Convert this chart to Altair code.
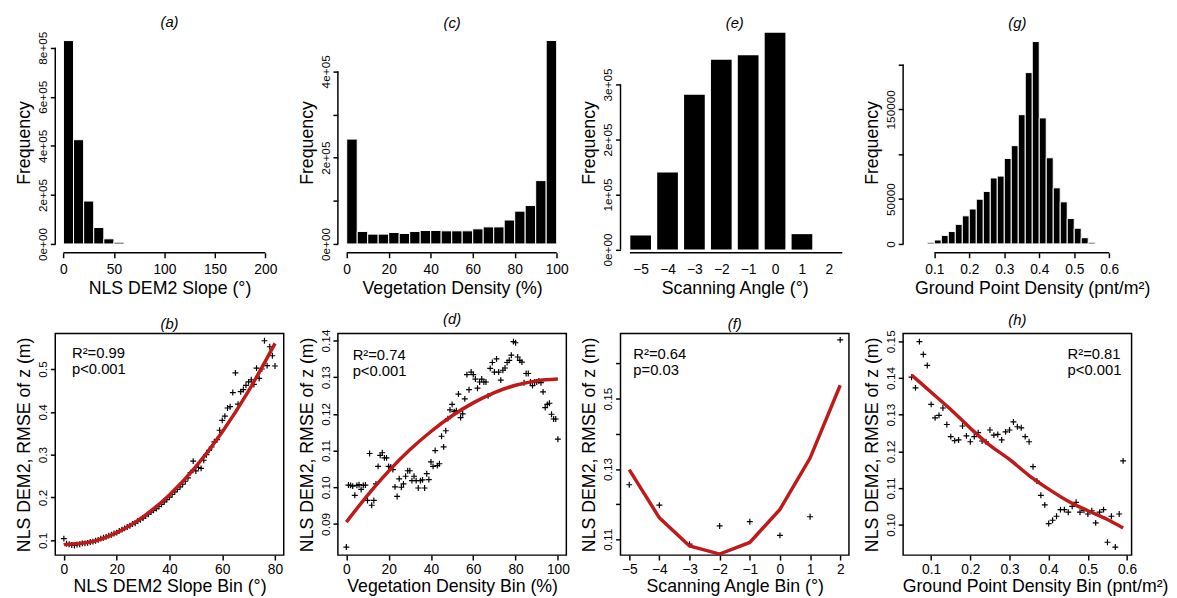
import altair as alt
import pandas as pd

FONT = "Liberation Sans"
RED = "#bf1a1a"
W = 232
HT = 224
HB = 225

# ---------------- data ----------------
# (a) NLS DEM2 slope histogram
slope_bin_start = [0, 10, 20, 30, 40, 50]
slope_bin_end = [10, 20, 30, 40, 50, 60]
slope_freq = [829000, 425000, 175000, 67000, 21000, 7000]

# (c) vegetation density histogram
veg_bin_start = [0, 5, 10, 15, 20, 25, 30, 35, 40, 45, 50, 55, 60, 65, 70, 75, 80, 85, 90, 95]
veg_bin_end = [5, 10, 15, 20, 25, 30, 35, 40, 45, 50, 55, 60, 65, 70, 75, 80, 85, 90, 95, 100]
veg_freq = [243000, 28900, 22800, 22800, 26600, 24300, 28900, 31200, 31200, 30400,
            30400, 30400, 35000, 39500, 39500, 55500, 76000, 89000, 146800, 471500]

# (e) scanning angle bar chart
scan_angle = [-5, -4, -3, -2, -1, 0, 1, 2]
scan_freq = [25600, 140000, 281000, 345000, 353000, 394000, 28000, 0]

# (g) ground point density histogram
gpd_bin_start = [0.08, 0.10, 0.12, 0.14, 0.16, 0.18, 0.20, 0.22, 0.24, 0.26, 0.28, 0.30,
                 0.32, 0.34, 0.36, 0.38, 0.40, 0.42, 0.44, 0.46, 0.48, 0.50, 0.52, 0.54]
gpd_bin_end = [0.10, 0.12, 0.14, 0.16, 0.18, 0.20, 0.22, 0.24, 0.26, 0.28, 0.30, 0.32,
               0.34, 0.36, 0.38, 0.40, 0.42, 0.44, 0.46, 0.48, 0.50, 0.52, 0.54, 0.56]
gpd_freq = [1800, 4400, 9500, 13800, 21800, 31300, 38900, 49800, 58500, 73500, 75600, 95300,
            109500, 144000, 190900, 225500, 140400, 96000, 62500, 46900, 28400, 17500, 6900, 1800]

# (b) RMSE vs slope bin
slope_bin = list(range(0, 81))
slope_rmse = [0.104, 0.092, 0.091, 0.089, 0.088, 0.090, 0.091, 0.093, 0.093, 0.094,
              0.096, 0.097, 0.099, 0.101, 0.104, 0.106, 0.108, 0.111, 0.113, 0.116,
              0.118, 0.122, 0.125, 0.128, 0.131, 0.134, 0.138, 0.140, 0.145, 0.148,
              0.152, 0.157, 0.161, 0.166, 0.170, 0.174, 0.179, 0.184, 0.190, 0.195,
              0.201, 0.207, 0.213, 0.219, 0.225, 0.231, 0.238, 0.246, 0.258, 0.285,
              0.262, 0.270, 0.268, 0.287, 0.300, 0.310, 0.318, 0.330, 0.335, 0.357,
              0.380, 0.390, 0.409, 0.412, 0.445, 0.491, 0.418, 0.447, 0.452, 0.462,
              0.470, 0.475, 0.464, 0.502, 0.478, 0.500, 0.566, 0.508, 0.552, 0.531, 0.507]
slope_fit_x = [0, 10, 20, 30, 40, 50, 60, 70, 80]
slope_fit_y = [0.090, 0.096, 0.118, 0.155, 0.206, 0.272, 0.353, 0.449, 0.560]

# (d) RMSE vs vegetation density bin
veg_bin = list(range(0, 101))
veg_rmse = [0.0837, 0.1006, 0.1005, 0.1003, 0.0978, 0.1005, 0.1007, 0.0994, 0.1005, 0.1006,
            0.0964, 0.1092, 0.0951, 0.0964, 0.1009, 0.1057, 0.1087, 0.1094, 0.1080, 0.1080,
            0.1057, 0.1055, 0.1048, 0.1001, 0.0975, 0.1023, 0.1000, 0.1009, 0.1030, 0.1045,
            0.1045, 0.1018, 0.1030, 0.1018, 0.0998, 0.1018, 0.1020, 0.0998, 0.1037, 0.1021,
            0.1069, 0.1057, 0.1100, 0.1059, 0.1064, 0.1139, 0.1110, 0.1154, 0.1187, 0.1211,
            0.1226, 0.1206, 0.1209, 0.1254, 0.1190, 0.1200, 0.1241, 0.1307, 0.1266, 0.1314,
            0.1307, 0.1295, 0.1270, 0.1287, 0.1295, 0.1287, 0.1287, 0.1249, 0.1324, 0.1340,
            0.1314, 0.1350, 0.1314, 0.1292, 0.1319, 0.1325, 0.1340, 0.1346, 0.1360, 0.1397,
            0.1394, 0.1355, 0.1346, 0.1341, 0.1285, 0.1310, 0.1310, 0.1287, 0.1277, 0.1287,
            0.1287, 0.1290, 0.1285, 0.1260, 0.1217, 0.1226, 0.1229, 0.1199, 0.1186, 0.1186, 0.1131]
veg_fit_x = [0, 10, 20, 30, 40, 50, 60, 70, 80, 90, 100]
veg_fit_y = [0.0905, 0.0978, 0.1044, 0.1102, 0.1152, 0.1195, 0.1230, 0.1258, 0.1278, 0.1290, 0.1295]

# (f) RMSE vs scanning angle bin
scan_bin = [-5, -4, -3, -2, -1, 0, 1, 2]
scan_rmse = [0.1255, 0.1197, 0.1086, 0.1138, 0.1150, 0.1111, 0.1164, 0.1667]
scan_fit_y = [0.1298, 0.1161, 0.1081, 0.1058, 0.1091, 0.1185, 0.1331, 0.1538]

# (h) RMSE vs ground point density bin
gpd_bin = [0.05, 0.06, 0.07, 0.08, 0.09, 0.10, 0.11, 0.12, 0.13, 0.14, 0.15, 0.16, 0.17, 0.18,
           0.19, 0.20, 0.21, 0.22, 0.23, 0.24, 0.25, 0.26, 0.27, 0.28, 0.29, 0.30, 0.31, 0.32,
           0.33, 0.34, 0.35, 0.36, 0.37, 0.38, 0.39, 0.40, 0.41, 0.42, 0.43, 0.44, 0.45, 0.46,
           0.47, 0.48, 0.49, 0.50, 0.51, 0.52, 0.53, 0.54, 0.55, 0.56, 0.57, 0.58, 0.59]
gpd_rmse = [0.1402, 0.1373, 0.1499, 0.1464, 0.1434, 0.1328, 0.1291, 0.1298, 0.1318, 0.1273,
            0.1240, 0.1229, 0.1231, 0.1269, 0.1242, 0.1226, 0.1240, 0.1251, 0.1228, 0.1226,
            0.1258, 0.1244, 0.1246, 0.1231, 0.1253, 0.1258, 0.1280, 0.1267, 0.1264, 0.1240,
            0.1226, 0.1158, 0.1119, 0.1080, 0.1054, 0.1003, 0.1012, 0.1023, 0.1041, 0.1041,
            0.1034, 0.1050, 0.1061, 0.1034, 0.1039, 0.1029, 0.1038, 0.1005, 0.1034, 0.1041,
            0.0952, 0.1023, 0.0939, 0.1029, 0.1174]
gpd_fit_x = [0.05, 0.10, 0.15, 0.20, 0.25, 0.30, 0.35, 0.40, 0.45, 0.50, 0.55, 0.59]
gpd_fit_y = [0.1408, 0.1361, 0.1314, 0.1263, 0.1216, 0.1178, 0.1134, 0.1097, 0.1064, 0.1038, 0.1014, 0.0991]


def e05(step_keep=None):
    if step_keep is None:
        return "datum.value == 0 ? '0e+00' : format(datum.value/100000, 'd') + 'e+05'"
    return ("datum.value == 0 ? '0e+00' : (datum.value % " + str(step_keep) +
            " == 0 ? format(datum.value/100000, 'd') + 'e+05' : '')")


def hist_panel(df, xdom, ydom, xvals, xfmt, yvals, ylab_expr, xtitle, ttl,
               xline, yline, xticks=True, bar_stroke=1.0, title_x=None):
    xs = alt.Scale(domain=xdom, nice=False, zero=False)
    ys = alt.Scale(domain=ydom, nice=False, zero=False)
    xaxis_kw = dict(values=xvals, format=xfmt, title=xtitle, titlePadding=3,
                    tickSize=5 if xticks else 0, labelPadding=5 if xticks else 10)
    if title_x is not None:
        xaxis_kw["titleX"] = title_x
    X = alt.X("x0:Q", scale=xs, axis=alt.Axis(**xaxis_kw))
    Y = alt.Y("freq:Q", scale=ys,
              axis=alt.Axis(values=yvals, labelExpr=ylab_expr, title="Frequency"))
    bars = alt.Chart(df).mark_rect(color="black", stroke="white", strokeWidth=bar_stroke).encode(
        x=X, x2="x1:Q", y=Y, y2="base:Q")
    # axis lines spanning only the labelled tick range (R style)
    ydf = pd.DataFrame({"base": [yline[0]], "freq": [yline[1]]})
    xdf = pd.DataFrame({"x0": [xline[0]], "x1": [xline[1]]})
    yrule = alt.Chart(ydf).mark_rule(color="black", strokeWidth=1.5).encode(
        x=alt.value(0), y=Y, y2="base:Q")
    xrule = alt.Chart(xdf).mark_rule(color="black", strokeWidth=1.5).encode(
        y=alt.value(HT), x=X, x2="x1:Q")
    return alt.layer(bars, yrule, xrule).properties(
        width=W, height=HT,
        title=alt.TitleParams(ttl, fontStyle="italic", frame="group", baseline="middle",
                              offset=11, dy=17))


def scatter_panel(xv, yv, fx, fy, xdom, ydom, xvals, xfmt, yvals, ylab_expr, xtitle, ttl,
                  ann, ann_x, ann_y, title_x=None, interp="monotone"):
    xs = alt.Scale(domain=xdom, nice=False, zero=False)
    ys = alt.Scale(domain=ydom, nice=False, zero=False)
    pts_df = pd.DataFrame({"x": xv, "y": yv})
    fit_df = pd.DataFrame({"x": fx, "y": fy})
    xaxis_kw = dict(values=xvals, format=xfmt, title=xtitle, tickSize=5, labelPadding=3,
                    titlePadding=1)
    if title_x is not None:
        xaxis_kw["titleX"] = title_x
    X = alt.X("x:Q", scale=xs, axis=alt.Axis(**xaxis_kw))
    Y = alt.Y("y:Q", scale=ys, axis=alt.Axis(values=yvals, labelExpr=ylab_expr,
                                             title="NLS DEM2, RMSE of z (m)"))
    pts = alt.Chart(pts_df).mark_point(
        shape="M-1,0L1,0M0,-1L0,1", filled=False, color="black", strokeWidth=1.2, size=36, opacity=1
    ).encode(x=X, y=Y)
    fit = alt.Chart(fit_df).mark_line(color=RED, strokeWidth=3.5, interpolate=interp).encode(x=X, y=Y)
    txt = alt.Chart(pd.DataFrame({"t": [ann]})).mark_text(
        align="left", baseline="top", fontSize=15, lineBreak="\n", lineHeight=16, color="black"
    ).encode(x=alt.value(ann_x), y=alt.value(ann_y), text="t:N")
    return alt.layer(pts, fit, txt).properties(
        width=W, height=HB,
        view=alt.ViewBackground(stroke="black", strokeWidth=1.5),
        title=alt.TitleParams(ttl, fontStyle="italic", frame="group", baseline="middle",
                              offset=10, dy=15))


# ---- top row
df_a = pd.DataFrame({"x0": slope_bin_start, "x1": slope_bin_end, "freq": slope_freq, "base": 0})
pa = hist_panel(df_a, [-8.1, 218.2], [-36000, 863000], [0, 50, 100, 150, 200], "d",
                [0, 200000, 400000, 600000, 800000], e05(), "NLS DEM2 Slope (°)", "(a)",
                [0, 200], [0, 800000])

df_c = pd.DataFrame({"x0": veg_bin_start, "x1": veg_bin_end, "freq": veg_freq, "base": 0})
pc = hist_panel(df_c, [-4.2, 104.6], [-20500, 490600], [0, 20, 40, 60, 80, 100], "d",
                [0, 100000, 200000, 300000, 400000], e05(200000), "Vegetation Density  (%)", "(c)",
                [0, 100], [0, 400000])

df_e = pd.DataFrame({"ang": scan_angle, "freq": scan_freq, "base": 0})
df_e["x0"] = [a - 0.385 for a in scan_angle]
df_e["x1"] = [a + 0.385 for a in scan_angle]
pe = hist_panel(df_e, [-5.75, 2.75], [-5900, 394800], scan_angle, "d",
                [0, 100000, 200000, 300000], e05(), "Scanning Angle  (°)", "(e)",
                [-5.4, 2.5], [0, 300000], xticks=False, bar_stroke=0)

df_g = pd.DataFrame({"x0": gpd_bin_start, "x1": gpd_bin_end, "freq": gpd_freq, "base": 0})
pg = hist_panel(df_g, [0.0108, 0.664], [-9900, 235900], [0.1, 0.2, 0.3, 0.4, 0.5, 0.6], ".1f",
                [0, 50000, 100000, 150000, 200000],
                "datum.value == 0 ? '0' : ((datum.value == 50000 || datum.value == 150000) ? format(datum.value, 'd') : '')",
                "Ground Point Density  (pnt/m²)", "(g)", [0.1, 0.6], [0, 200000], title_x=W / 2 + 15)

# ---- bottom row
pb = scatter_panel(slope_bin, slope_rmse, slope_fit_x, slope_fit_y, [-3.26, 83.3], [0.0655, 0.5828],
                   [0, 20, 40, 60, 80], "d", [0.1, 0.2, 0.3, 0.4, 0.5], "format(datum.value, '.1f')",
                   "NLS DEM2 Slope Bin (°)", "(b)", "R²=0.99\np<0.001", 17, 13)

pd_ = scatter_panel(veg_bin, veg_rmse, veg_fit_x, veg_fit_y, [-4, 104], [0.0815, 0.1419],
                    [0, 20, 40, 60, 80, 100], "d", [0.09, 0.10, 0.11, 0.12, 0.13, 0.14],
                    "format(datum.value, '.2f')",
                    "Vegetation Density Bin (%)", "(d)", "R²=0.74\np<0.001", 15, 15)

odd_expr = ("(format(datum.value, '.2f') == '0.11' || format(datum.value, '.2f') == '0.13' || "
            "format(datum.value, '.2f') == '0.15') ? format(datum.value, '.2f') : ''")
pf = scatter_panel(scan_bin, scan_rmse, scan_bin, scan_fit_y, [-5.29, 2.29], [0.1055, 0.1685],
                   scan_bin, "d", [0.11, 0.12, 0.13, 0.14, 0.15, 0.16], odd_expr,
                   "Scanning Angle Bin (°)", "(f)", "R²=0.64\np=0.03", 13, 14, interp="linear")

ph = scatter_panel(gpd_bin, gpd_rmse, gpd_fit_x, gpd_fit_y, [0.0284, 0.6116], [0.0917, 0.1521],
                   [0.1, 0.2, 0.3, 0.4, 0.5, 0.6], ".1f", [0.10, 0.11, 0.12, 0.13, 0.14, 0.15],
                   "format(datum.value, '.2f')",
                   "Ground Point Density Bin (pnt/m²)", "(h)", "R²=0.81\np<0.001", 167, 14,
                   title_x=W / 2 + 18)

chart = alt.concat(pa, pc, pe, pg, pb, pd_, pf, ph, columns=4,
                   spacing={"row": 81, "column": 55}).properties(
    bounds="flush", align="all",
    padding={"left": 7, "top": 2, "right": 0, "bottom": 0},
).configure_view(stroke=None).configure_axis(
    labelFont=FONT, titleFont=FONT, labelColor="black", titleColor="black",
    tickColor="black", tickWidth=1.5, domain=False, grid=False,
    titleFontWeight="normal", titleFontSize=18, labelFlush=False, labelOverlap=False,
).configure_axisX(
    labelFontSize=14,
).configure_axisY(
    labelFontSize=12, labelAngle=270, labelAlign="center", labelBaseline="bottom",
    labelPadding=1, titlePadding=3,
).configure_title(
    font=FONT, fontSize=15, fontWeight="normal", color="black", anchor="middle",
).configure_text(font=FONT)

chart.save("out.html", embed_options={"renderer": "svg", "actions": False})
